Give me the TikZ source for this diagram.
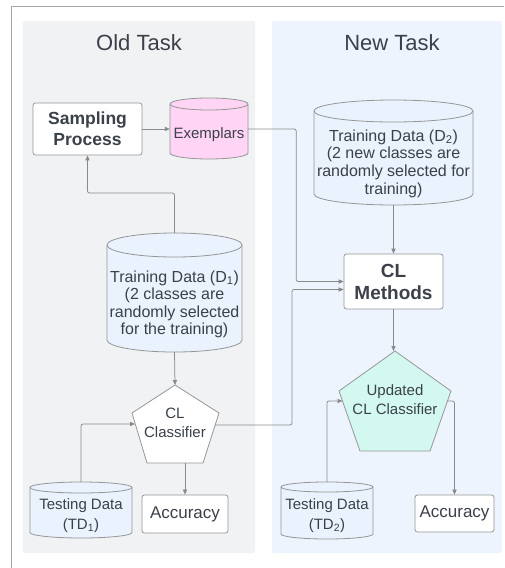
\documentclass[tikz,border=0pt]{standalone}
\usepackage{fontspec}
\setmainfont{Liberation Sans}
\usetikzlibrary{arrows.meta,calc}
\definecolor{txt}{HTML}{3B4049}
\definecolor{edgec}{HTML}{969696}
\definecolor{conn}{HTML}{8A8A8A}
\definecolor{oldbg}{HTML}{F1F2F4}
\definecolor{newbg}{HTML}{EDF4FE}
\definecolor{cylblue}{HTML}{EAF2FD}
\definecolor{pinkc}{HTML}{FFD4F4}
\definecolor{mint}{HTML}{D3F8F0}
\definecolor{framec}{HTML}{A6A6A6}
\newcommand{\cylnode}[9]{%
 \pgfmathsetmacro{\cL}{#2-#4/2}%
 \pgfmathsetmacro{\cR}{#2+#4/2}%
 \pgfmathsetmacro{\cRx}{#4/2}%
 \pgfmathsetmacro{\cTop}{-(#3+#6)}%
 \pgfmathsetmacro{\cBot}{-(#5-#6)}%
 \pgfmathsetmacro{\cMid}{-(#3+2*#6+#5)/2}%
 \pgfmathsetmacro{\cH}{#5-#3-2*#6}%
 \path[shapeline, fill=#7] (\cL,\cTop) arc[start angle=180,end angle=0,x radius=\cRx pt,y radius=#6pt] -- (\cR,\cBot) arc[start angle=0,end angle=-180,x radius=\cRx pt,y radius=#6pt] -- cycle;
 \draw[shapeline] (\cL,\cTop) arc[start angle=180,end angle=360,x radius=\cRx pt,y radius=#6pt];
 \coordinate (#1-top) at (#2,-#3);
 \node[cyltext, font=#8, minimum width=#4pt, minimum height=\cH pt] (#1) at (#2,\cMid) {#9};
}
\begin{document}
\begin{tikzpicture}[x=1pt,y=1pt,
 shapeline/.style={draw=edgec, line width=0.8pt},
 cyltext/.style={inner sep=0pt, align=center, text=txt},
 boxnode/.style={shapeline, fill=white, rounded corners=2.5pt, align=center, text=txt, inner sep=0pt},
 arr/.style={draw=conn, line width=0.75pt, rounded corners=2pt, -{Triangle[length=5pt,width=4.2pt]}},
 title/.style={text=txt, font=\fontsize{22}{26}\selectfont},
 pentext/.style={text=txt, align=center, inner sep=0pt, font=\fontsize{15}{19}\selectfont}]
\useasboundingbox (0,0) rectangle (504,-568);
% frame and panels
\draw[draw=framec, line width=0.8pt] (11,-568) -- (11,-6) -- (504,-6);
\fill[oldbg, rounded corners=2pt] (23,-21) rectangle (255,-553);
\fill[newbg, rounded corners=2pt] (272,-21) rectangle (502,-553);
\node[title] (oldt) at (139,-43) {Old Task};
\node[title] (newt) at (392,-43) {New Task};
% boxes
\node[boxnode, minimum width=109pt, minimum height=52pt, font=\bfseries\fontsize{17.5}{21}\selectfont] (samp) at (87.5,-129) {Sampling\\Process};
\node[boxnode, minimum width=99pt, minimum height=55pt, font=\bfseries\fontsize{19}{22}\selectfont] (clm) at (393.5,-281.5) {CL\\Methods};
\node[boxnode, minimum width=86pt, minimum height=38pt, font=\fontsize{17}{20}\selectfont] (acc1) at (185,-514) {Accuracy};
\node[boxnode, minimum width=79pt, minimum height=37pt, font=\fontsize{17}{20}\selectfont] (acc2) at (454.5,-513.5) {Accuracy};
% cylinders
\cylnode{exem}{209}{98}{78}{159}{6}{pinkc}{\fontsize{15}{18}\selectfont}{Exemplars}
\cylnode{d2}{393.5}{100}{159}{205}{11}{cylblue}{\fontsize{16}{17.7}\selectfont}{Training Data (D\textsubscript{2})\\(2 new classes are\\randomly selected for\\training)}
\cylnode{d1}{174.5}{233}{135}{352}{12}{cylblue}{\fontsize{16}{17.5}\selectfont}{Training Data (D\textsubscript{1})\\(2 classes are\\randomly selected\\for the training)}
\cylnode{td1}{81}{482}{102}{538}{5.5}{cylblue}{\fontsize{15}{20}\selectfont}{Testing Data\\(TD\textsubscript{1})}
\cylnode{td2}{327}{482}{92}{539}{5}{cylblue}{\fontsize{15}{19.5}\selectfont}{Testing Data\\(TD\textsubscript{2})}
% pentagons
\path[shapeline, fill=white] (175,-385) -- (219,-413) -- (203,-463) -- (147,-463) -- (132,-413) -- cycle;
\node[pentext] (cls) at (175,-422.5) {CL\\Classifier};
\coordinate (cls-top) at (175,-385);
\coordinate (cls-b) at (175,-463);
\coordinate (clsL) at (135,-424);
\coordinate (clsR) at (215,-425);
\path[shapeline, fill=mint] (395,-351) -- (451,-391) -- (430,-451) -- (360,-451) -- (339,-391) -- cycle;
\node[pentext] (ucls) at (395,-399.5) {Updated\\CL Classifier};
\coordinate (ucls-top) at (395,-351);
\coordinate (uclsL) at (342.5,-401);
\coordinate (uclsR) at (447.5,-401);
% connectors
\draw[arr] (samp.east) -- (samp.east -| exem.west);
\draw[arr] (samp.east -| exem.east) -- ++(48,0) |- (clm.west);
\draw[arr] (clsR) -- ++(77,0) |- ($(clm.west)+(0,-8)$);
\draw[arr] (d1-top) -- ++(0,40) -| (samp.south);
\draw[arr] (d1.south) -- (cls-top);
\draw[arr] (td1-top) |- (clsL);
\draw[arr] (cls-b -| acc1.north) -- (acc1.north);
\draw[arr] (d2.south) -- (clm.north);
\draw[arr] (clm.south) -- (clm.south |- ucls-top);
\draw[arr] (td2-top) |- (uclsL);
\draw[arr] (uclsR) -| (acc2.north);
\end{tikzpicture}
\end{document}
